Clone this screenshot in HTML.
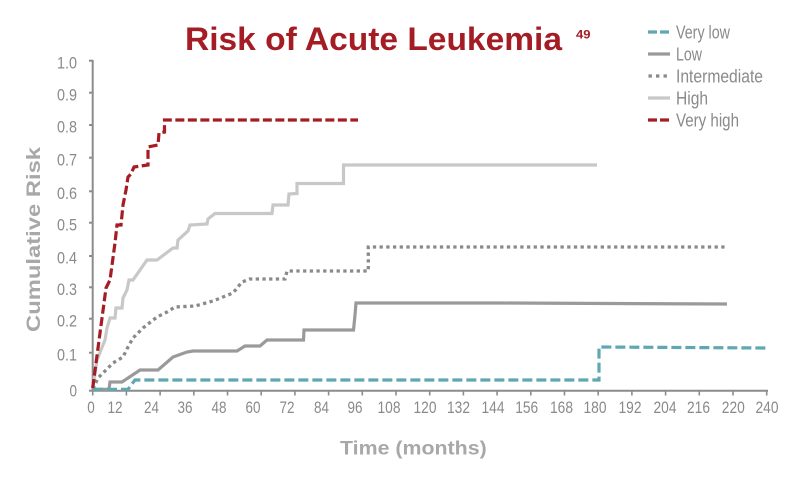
<!DOCTYPE html>
<html>
<head>
<meta charset="utf-8">
<style>
  html,body{margin:0;padding:0;background:#ffffff;}
  body{width:800px;height:480px;overflow:hidden;}
  svg{display:block;}
  .tk{font-family:"Liberation Sans Narrow","Liberation Sans",sans-serif;font-size:17px;fill:#8a8a8a;}
  .lg{font-family:"Liberation Sans Narrow","Liberation Sans",sans-serif;font-size:18px;fill:#8a8a8a;}
  .ax{font-family:"Liberation Sans",sans-serif;font-size:19px;font-weight:bold;fill:#a8a8a8;}
  .tt{font-family:"Liberation Sans",sans-serif;font-weight:bold;fill:#a51d24;}
</style>
</head>
<body>
<svg width="800" height="480" viewBox="0 0 800 480" xmlns="http://www.w3.org/2000/svg">
  <!-- Title -->
  <text class="tt" x="185" y="50" font-size="32" textLength="377" lengthAdjust="spacingAndGlyphs">Risk of Acute Leukemia</text>
  <text class="tt" x="576" y="38.5" font-size="12" textLength="14.5" lengthAdjust="spacingAndGlyphs">49</text>

  <!-- Legend -->
  <line x1="648" y1="32" x2="670" y2="32" stroke="#5fa8b2" stroke-width="3.2" stroke-dasharray="9 3"/>
  <text class="lg" x="676" y="38.5" textLength="54" lengthAdjust="spacingAndGlyphs">Very low</text>
  <line x1="648" y1="54" x2="670" y2="54" stroke="#9a9a9a" stroke-width="3.2"/>
  <text class="lg" x="676" y="60.5" textLength="26" lengthAdjust="spacingAndGlyphs">Low</text>
  <line x1="648.5" y1="76" x2="670" y2="76" stroke="#8a8a8a" stroke-width="3.3" stroke-dasharray="3.4 4.1"/>
  <text class="lg" x="676" y="82.5" textLength="87" lengthAdjust="spacingAndGlyphs">Intermediate</text>
  <line x1="648" y1="98" x2="670" y2="98" stroke="#c8c8c8" stroke-width="3.2"/>
  <text class="lg" x="676" y="104.5" textLength="32" lengthAdjust="spacingAndGlyphs">High</text>
  <line x1="648" y1="120" x2="670" y2="120" stroke="#a51d24" stroke-width="3.2" stroke-dasharray="9 3"/>
  <text class="lg" x="676" y="126.5" textLength="63" lengthAdjust="spacingAndGlyphs">Very high</text>

  <!-- Axes -->
  <g stroke="#8c8c8c" stroke-width="2" fill="none">
    <line x1="92.7" y1="60" x2="92.7" y2="391.5"/>
    <line x1="92" y1="390.7" x2="768" y2="390.7"/>
    <!-- y ticks -->
    <line x1="89" y1="60.7" x2="93" y2="60.7"/>
    <line x1="89" y1="92.7" x2="93" y2="92.7"/>
    <line x1="89" y1="125" x2="93" y2="125"/>
    <line x1="89" y1="157.7" x2="93" y2="157.7"/>
    <line x1="89" y1="191.3" x2="93" y2="191.3"/>
    <line x1="89" y1="222.7" x2="93" y2="222.7"/>
    <line x1="89" y1="256" x2="93" y2="256"/>
    <line x1="89" y1="287.3" x2="93" y2="287.3"/>
    <line x1="89" y1="318.7" x2="93" y2="318.7"/>
    <line x1="89" y1="352.7" x2="93" y2="352.7"/>
    <line x1="89" y1="390.7" x2="93" y2="390.7"/>
  </g>
  <g stroke="#8c8c8c" stroke-width="1.6" id="xt">
    <line x1="92.7" y1="390" x2="92.7" y2="395.5"/>
    <line x1="126.4" y1="390" x2="126.4" y2="395.5"/>
    <line x1="160.1" y1="390" x2="160.1" y2="395.5"/>
    <line x1="193.8" y1="390" x2="193.8" y2="395.5"/>
    <line x1="227.5" y1="390" x2="227.5" y2="395.5"/>
    <line x1="261.2" y1="390" x2="261.2" y2="395.5"/>
    <line x1="294.9" y1="390" x2="294.9" y2="395.5"/>
    <line x1="328.6" y1="390" x2="328.6" y2="395.5"/>
    <line x1="362.3" y1="390" x2="362.3" y2="395.5"/>
    <line x1="396" y1="390" x2="396" y2="395.5"/>
    <line x1="429.7" y1="390" x2="429.7" y2="395.5"/>
    <line x1="463.4" y1="390" x2="463.4" y2="395.5"/>
    <line x1="497.1" y1="390" x2="497.1" y2="395.5"/>
    <line x1="530.8" y1="390" x2="530.8" y2="395.5"/>
    <line x1="564.5" y1="390" x2="564.5" y2="395.5"/>
    <line x1="598.2" y1="390" x2="598.2" y2="395.5"/>
    <line x1="631.9" y1="390" x2="631.9" y2="395.5"/>
    <line x1="665.6" y1="390" x2="665.6" y2="395.5"/>
    <line x1="699.3" y1="390" x2="699.3" y2="395.5"/>
    <line x1="733" y1="390" x2="733" y2="395.5"/>
    <line x1="766.7" y1="390" x2="766.7" y2="395.5"/>
  </g>

  <!-- Y tick labels -->
  <g class="tk" text-anchor="end">
    <text x="77" y="68.3" textLength="20" lengthAdjust="spacingAndGlyphs">1.0</text>
    <text x="77" y="100.3" textLength="20" lengthAdjust="spacingAndGlyphs">0.9</text>
    <text x="77" y="132.6" textLength="20" lengthAdjust="spacingAndGlyphs">0.8</text>
    <text x="77" y="165.3" textLength="20" lengthAdjust="spacingAndGlyphs">0.7</text>
    <text x="77" y="198.9" textLength="20" lengthAdjust="spacingAndGlyphs">0.6</text>
    <text x="77" y="230.3" textLength="20" lengthAdjust="spacingAndGlyphs">0.5</text>
    <text x="77" y="263.6" textLength="20" lengthAdjust="spacingAndGlyphs">0.4</text>
    <text x="77" y="294.9" textLength="20" lengthAdjust="spacingAndGlyphs">0.3</text>
    <text x="77" y="326.3" textLength="20" lengthAdjust="spacingAndGlyphs">0.2</text>
    <text x="77" y="360.3" textLength="20" lengthAdjust="spacingAndGlyphs">0.1</text>
    <text x="77" y="396.7" textLength="7.5" lengthAdjust="spacingAndGlyphs">0</text>
  </g>

  <!-- X tick labels -->
  <g class="tk" text-anchor="middle">
    <text x="91" y="413" textLength="7.5" lengthAdjust="spacingAndGlyphs">0</text>
    <text x="115" y="413" textLength="15" lengthAdjust="spacingAndGlyphs">12</text>
    <text x="151.5" y="413" textLength="15" lengthAdjust="spacingAndGlyphs">24</text>
    <text x="185" y="413" textLength="15" lengthAdjust="spacingAndGlyphs">36</text>
    <text x="219" y="413" textLength="15" lengthAdjust="spacingAndGlyphs">48</text>
    <text x="253" y="413" textLength="15" lengthAdjust="spacingAndGlyphs">60</text>
    <text x="287" y="413" textLength="15" lengthAdjust="spacingAndGlyphs">72</text>
    <text x="321.5" y="413" textLength="15" lengthAdjust="spacingAndGlyphs">84</text>
    <text x="355" y="413" textLength="15" lengthAdjust="spacingAndGlyphs">96</text>
    <text x="389" y="413" textLength="23" lengthAdjust="spacingAndGlyphs">108</text>
    <text x="425" y="413" textLength="23" lengthAdjust="spacingAndGlyphs">120</text>
    <text x="458.5" y="413" textLength="23" lengthAdjust="spacingAndGlyphs">132</text>
    <text x="493" y="413" textLength="23" lengthAdjust="spacingAndGlyphs">144</text>
    <text x="526.7" y="413" textLength="23" lengthAdjust="spacingAndGlyphs">156</text>
    <text x="561.5" y="413" textLength="23" lengthAdjust="spacingAndGlyphs">168</text>
    <text x="595" y="413" textLength="23" lengthAdjust="spacingAndGlyphs">180</text>
    <text x="630" y="413" textLength="23" lengthAdjust="spacingAndGlyphs">192</text>
    <text x="665" y="413" textLength="23" lengthAdjust="spacingAndGlyphs">204</text>
    <text x="698.5" y="413" textLength="23" lengthAdjust="spacingAndGlyphs">216</text>
    <text x="733.3" y="413" textLength="23" lengthAdjust="spacingAndGlyphs">220</text>
    <text x="767" y="413" textLength="23" lengthAdjust="spacingAndGlyphs">240</text>
  </g>

  <!-- Axis titles -->
  <text class="ax" x="340" y="454.3" textLength="146.7" lengthAdjust="spacingAndGlyphs">Time (months)</text>
  <text class="ax" transform="translate(40,239.5) rotate(-90)" text-anchor="middle" x="0" y="0" textLength="185" lengthAdjust="spacingAndGlyphs">Cumulative Risk</text>

  <!-- Series -->
  <g fill="none" stroke-width="3.2" stroke-linejoin="miter">
    <!-- High -->
    <polyline stroke="#c8c8c8" points="92.7,388 97,360 105,340 107,328 110,318 115,318 116,308 122,308 123,298 127,290 129,280 133,280 147,260 157,260 173,248 177,248 178,240 188,231 190,225 207,224 208,219 215,213.5 272,213.5 273,205 288,205 289,194 297,193.5 297,183.5 343.5,183.5 343.5,165 597,165"/>
    <!-- Low -->
    <polyline stroke="#9a9a9a" points="92.7,389.3 109,389.3 110,382 122,382 140,370 158,370 173,357 187,352 193,351 237,351 245,346 260,346 267,340 303.5,340 304,330 353.5,330 355,315 356,303 500,303 727,304"/>
    <!-- Intermediate -->
    <polyline stroke="#8a8a8a" stroke-width="3.3" stroke-dasharray="3.3 3.4" points="93,389 98,378 113,363 123,357 128,347 133,338 143,328 157,317 167,312 175,307 195,306 213,301 233,293 242,282 250,279 285,279 287,271 368.3,271 368.3,247 725,247"/>
    <!-- Very low -->
    <polyline stroke="#5fa8b2" stroke-dasharray="10 4" points="93,389.3 128,389.3 135,380 599,380 599,347 768,348"/>
    <!-- Very high -->
    <polyline stroke="#a51d24" stroke-dasharray="9 3.5" points="92.7,388 100,333 106,288 110,280 115,243 117,225 121,225 123,205 126,190 128,177 131,174 134,167 148,165 148,147 158,145 159,133 164.5,132 164.5,120 358,120"/>
  </g>
</svg>
</body>
</html>
